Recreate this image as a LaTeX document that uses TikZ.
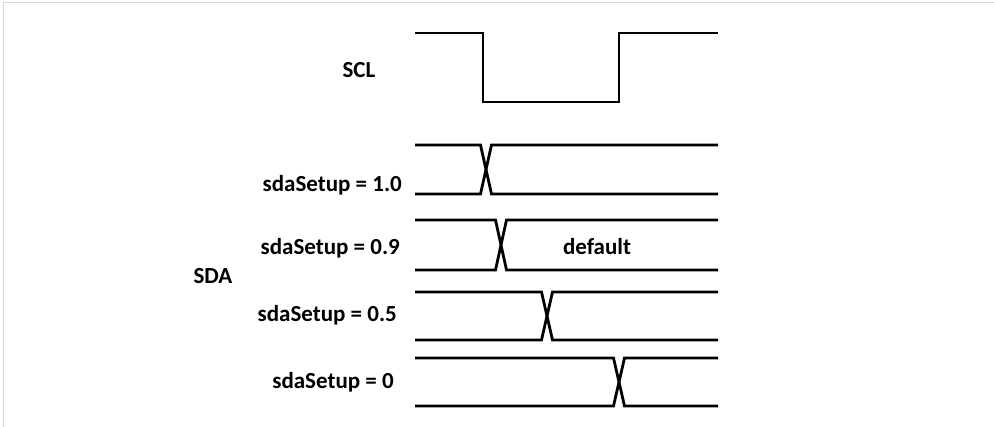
\documentclass[tikz,border=0pt]{standalone}
\usepackage{fontspec}
\setmainfont{Carlito}
\tikzset{
  wave/.style={line width=2.8pt, line join=miter, black},
  lbl/.style={font=\bfseries\fontsize{23}{27}\selectfont, inner sep=0pt},
  frame/.style={draw=black!15, line width=1.5pt}
}
\begin{document}
\begin{tikzpicture}[x=1pt,y=-1pt]
  \useasboundingbox (0,0) rectangle (994,427);
  % page frame (top and left edges)
  \draw[frame] (3.5,430) -- (3.5,2.5) -- (1000,2.5);

  % clock line
  \node[lbl] (scl) at (359,70) {SCL};
  \draw[wave] (415,33) -- (483,33) -- (483,102) -- (619,102) -- (619,33) -- (718,33);

  % data group label
  \node[lbl] (sda) at (213,276) {SDA};

  % data lines: top y / bottom y / crossing centre / label
  \foreach \t/\b/\c/\n [count=\i] in {145/194/486/1.0, 220/270/501/0.9, 292/340/547/0.5, 358/406/619/0}{
    \draw[wave] (415,\t) -- (\c-5.5,\t) -- (\c+5.5,\b) -- (718,\b);
    \draw[wave] (415,\b) -- (\c-5.5,\b) -- (\c+5.5,\t) -- (718,\t);
  }
  \node[lbl, anchor=east] (s10) at (402,185) {sdaSetup = 1.0};
  \node[lbl, anchor=east] (s09) at (400,248) {sdaSetup = 0.9};
  \node[lbl, anchor=east] (s05) at (397,315) {sdaSetup = 0.5};
  \node[lbl] (s00) at (333,382) {sdaSetup = 0};
  \node[lbl] (dflt) at (597,247) {default};
\end{tikzpicture}
\end{document}
